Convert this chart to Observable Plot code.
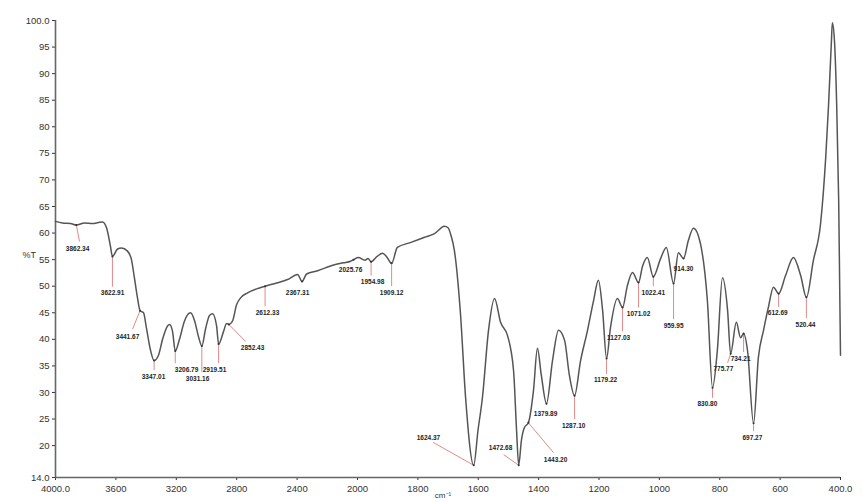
<!DOCTYPE html>
<html>
<head>
<meta charset="utf-8">
<script src="https://cdn.jsdelivr.net/npm/d3@7"></script>
<script src="https://cdn.jsdelivr.net/npm/@observablehq/plot@0.6"></script>
<style>
  html, body { margin: 0; padding: 0; background: #fff; }
  #chart { width: 862px; height: 502px; }
</style>
</head>
<body>
<div id="chart"></div>
<script>
// Spectrum (wavenumber in cm-1, transmittance in %T)
const wavenumber = [
  4000, 3954, 3901, 3862, 3808, 3755, 3715, 3689, 3662, 3636, 3623, 3589, 3563, 3523, 3497, 3477, 3457, 3440, 3417, 3397,
  3371, 3347, 3318, 3291, 3258, 3245, 3225, 3207, 3179, 3145, 3106, 3079, 3053, 3031, 3006, 2980, 2960, 2933, 2920, 2887,
  2867, 2852, 2827, 2801, 2774, 2728, 2668, 2612, 2536, 2463, 2397, 2367, 2337, 2264, 2158, 2092, 2046, 2026, 1997, 1975,
  1965, 1955, 1935, 1917, 1903, 1887, 1868, 1825, 1778, 1745, 1712, 1700, 1690, 1679, 1659, 1642, 1615, 1601, 1586, 1566,
  1546, 1526, 1503, 1483, 1473, 1466, 1457, 1447, 1434, 1417, 1404, 1391, 1374, 1354, 1334, 1314, 1298, 1281, 1261, 1238,
  1218, 1202, 1188, 1175, 1162, 1139, 1122, 1106, 1089, 1069, 1056, 1040, 1020, 996, 977, 953, 937, 920, 904, 887,
  864, 841, 824, 808, 791, 774, 764, 745, 731, 721, 708, 688, 672, 655, 639, 622, 605, 582, 556, 532,
  513, 490, 466, 449, 440, 430, 427, 420, 413, 406, 400
];
const transmittance = [
  62.2, 61.9, 61.8, 61.5, 61.9, 61.8, 62.0, 62.1, 61.0, 57.5, 55.6, 57.0, 57.2, 56.6, 55.0, 51.5, 47.8, 45.4, 45.0, 42.0,
  38.0, 36.0, 37.0, 40.0, 42.5, 42.8, 41.5, 37.8, 40.0, 43.5, 45.0, 43.5, 40.5, 38.75, 42.0, 44.5, 44.8, 42.5, 39.1, 41.5,
  43.0, 42.8, 43.5, 46.5, 47.8, 48.75, 49.5, 50.0, 50.6, 51.25, 52.2, 50.9, 52.3, 52.9, 54.0, 54.4, 54.7, 55.0, 55.4, 54.9,
  55.2, 54.6, 55.6, 56.2, 55.5, 54.3, 57.3, 58.2, 59.2, 59.9, 61.3, 61.0, 59.5, 56.7, 44.9, 29.1, 16.3, 22.8, 29.1, 41.7,
  47.7, 43.2, 40.7, 34.1, 22.8, 16.3, 21.0, 23.4, 24.3, 30.4, 38.3, 33.2, 27.9, 36.0, 41.7, 39.8, 33.2, 29.4, 36.0, 41.7,
  47.3, 51.1, 45.4, 36.4, 42.2, 47.7, 46.0, 50.1, 52.6, 50.7, 53.7, 55.4, 51.8, 55.2, 57.3, 50.5, 56.3, 55.2, 58.6, 60.9,
  58.0, 47.3, 30.9, 37.9, 51.6, 45.4, 37.3, 43.2, 40.3, 41.1, 37.9, 24.2, 36.6, 41.7, 46.0, 49.8, 48.6, 52.0, 55.4, 52.0,
  47.9, 54.8, 61.8, 74.2, 83.6, 96.2, 99.6, 96.2, 84.9, 66.1, 37.0
];

// Peak annotations
const peakLabel = ["3862.34","3622.91","3441.67","3347.01","3206.79","3031.16","2919.51","2852.43","2612.33","2367.31",
  "2025.76","1954.98","1909.12","1624.37","1472.68","1443.20","1379.89","1287.10","1179.22","1127.03",
  "1071.02","1022.41","959.95","914.30","830.80","775.77","734.21","697.27","612.69","520.44"];
const peakWn   = [3862, 3623, 3440, 3347, 3207, 3031, 2920, 2852, 2612, 2367, 2026, 1955, 1887, 1615, 1466, 1434, 1374, 1281, 1175, 1122,
  1069, 1020, 953, 920, 824, 764, 721, 688, 605, 513];
const peakT    = [61.5, 55.6, 45.4, 36.0, 37.8, 38.75, 39.1, 42.8, 50.0, 50.9, 55.0, 54.6, 54.3, 16.3, 16.3, 24.3, 27.9, 29.4, 36.4, 46.0,
  50.7, 51.8, 50.5, 55.2, 30.9, 37.3, 41.1, 24.2, 48.6, 47.9];
const labelWn  = [3854, 3622, 3523, 3351, 3132, 3059, 2947, 2695, 2596, 2397, 2046, 1950, 1887, 1765, 1526, 1344, 1377, 1284, 1178, 1135,
  1069, 1020, 953, 920, 841, 788, 731, 692, 608, 516];
const labelT   = [57.1, 48.8, 40.5, 33.0, 34.3, 32.6, 34.3, 38.3, 44.9, 48.8, 53.1, 50.9, 48.8, 21.5, 19.5, 17.4, 26.0, 23.8, 32.3, 40.3,
  44.7, 48.8, 42.6, 53.3, 27.9, 34.5, 36.4, 21.5, 44.9, 42.8];
const lineEndWn = [3841, 3623, 3490, 3347, 3207, 3031, 2920, 2741, 2612, null, null, 1955, 1887, 1749, 1516, 1351, null, 1281, 1175, 1122,
  1069, 1020, 953, null, 824, 774, 721, 688, 605, 513];
const lineEndT  = [58.4, 49.9, 41.9, 34.2, 35.5, 33.9, 35.5, 39.6, 46.2, null, null, 52.0, 50.0, 20.6, 18.3, 18.7, null, 25.0, 33.5, 41.5,
  46.0, 50.0, 43.8, null, 29.0, 35.6, 37.6, 22.7, 46.1, 44.0];

// Axis ticks
const xTicks = [4000, 3600, 3200, 2800, 2400, 2000, 1800, 1600, 1400, 1200, 1000, 800, 600, 400];
const yTicks = [14, 20, 25, 30, 35, 40, 45, 50, 55, 60, 65, 70, 75, 80, 85, 90, 95, 100];

const spectrum = wavenumber.map((wn, i) => ({wn, t: transmittance[i]}));
const peaks = peakLabel.map((label, i) => ({
  label, wn: peakWn[i], t: peakT[i], lx: labelWn[i], lt: labelT[i], ex: lineEndWn[i], et: lineEndT[i]
}));

const chart = Plot.plot({
  width: 862,
  height: 502,
  marginLeft: 55,
  marginRight: 22,
  marginTop: 20,
  marginBottom: 25,
  style: {fontFamily: "Liberation Sans, Arial, sans-serif", fontSize: "9.5px", color: "#333", background: "#fff"},
  x: {
    type: "linear",
    domain: [4000, 2000, 400],
    range: [55, 357, 840],
    ticks: xTicks,
    tickFormat: d => d === 4000 || d === 400 ? d.toFixed(1) : String(d),
    tickSize: 3,
    tickPadding: 5,
    label: null
  },
  y: {
    domain: [14, 100],
    range: [477, 20],
    ticks: yTicks,
    tickFormat: d => d === 100 || d === 14 ? d.toFixed(1) : String(d),
    tickSize: 3,
    tickPadding: 3,
    label: null
  },
  marks: [
    Plot.ruleY([14], {stroke: "#666", strokeWidth: 1.6}),
    Plot.ruleX([4000], {stroke: "#666", strokeWidth: 1.6}),
    Plot.link(peaks.filter(d => d.ex != null), {x1: "wn", y1: "t", x2: "ex", y2: "et", stroke: "#e08a8a", strokeWidth: 1}),
    Plot.line(spectrum, {x: "wn", y: "t", curve: "monotone-x", stroke: "#555", strokeWidth: 1.5}),
    Plot.dot(peaks, {x: "wn", y: "t", r: 1, fill: "#333"}),
    Plot.text(peaks, {x: "lx", y: "lt", text: "label", fontSize: 6.5, fontWeight: "bold", fill: "#222"}),
    Plot.text(["%T"], {frameAnchor: "left", dx: -33, dy: 6, fontSize: 9, fill: "#333"}),
    Plot.text(["cm⁻¹"], {frameAnchor: "bottom", dx: -5, dy: 20, fontSize: 8, fill: "#333"})
  ]
});
document.getElementById("chart").appendChild(chart);
</script>
</body>
</html>
